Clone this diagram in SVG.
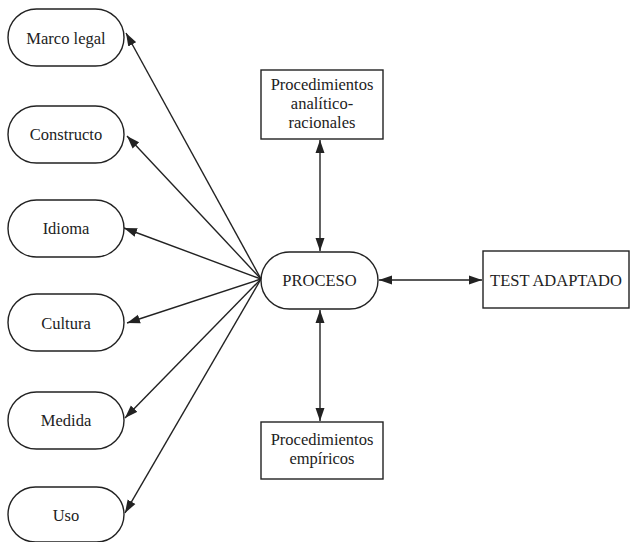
<svg xmlns="http://www.w3.org/2000/svg" width="631" height="542" viewBox="0 0 631 542">
<style>
.n{fill:#fff;stroke:#222;stroke-width:1.4}
.t{font-family:'Liberation Serif','Tinos','Times New Roman','DejaVu Serif',serif;font-size:16.5px;fill:#222;text-anchor:middle}
.c line{stroke:#222;stroke-width:1.4;fill:none}
</style>
<defs>
<marker id="ah" markerUnits="userSpaceOnUse" markerWidth="14" markerHeight="10" refX="13" refY="5" orient="auto-start-reverse" viewBox="0 0 14 10">
<path d="M0,0.5 L13,5 L0,9.5 Z" fill="#222"/>
</marker>
</defs>
<rect width="631" height="542" fill="#fff"/>
<g class="c">
<line x1="261" y1="279" x2="126" y2="33" marker-end="url(#ah)"/>
<line x1="261" y1="279" x2="127" y2="136" marker-end="url(#ah)"/>
<line x1="261" y1="279" x2="124" y2="228" marker-end="url(#ah)"/>
<line x1="261" y1="279" x2="127" y2="323" marker-end="url(#ah)"/>
<line x1="261" y1="279" x2="125" y2="418" marker-end="url(#ah)"/>
<line x1="261" y1="279" x2="125" y2="513" marker-end="url(#ah)"/>
<line x1="320" y1="140" x2="320" y2="251" marker-start="url(#ah)" marker-end="url(#ah)"/>
<line x1="320" y1="310" x2="320" y2="421" marker-start="url(#ah)" marker-end="url(#ah)"/>
<line x1="379" y1="280" x2="482" y2="280" marker-start="url(#ah)" marker-end="url(#ah)"/>
</g>
<g id="marco"><rect class="n" x="8" y="9" width="116" height="57" rx="28.5"/><text class="t" x="66" y="44">Marco legal</text></g>
<g id="constructo"><rect class="n" x="8" y="106" width="116" height="57" rx="28.5"/><text class="t" x="66" y="140">Constructo</text></g>
<g id="idioma"><rect class="n" x="8" y="200" width="116" height="57" rx="28.5"/><text class="t" x="66" y="234">Idioma</text></g>
<g id="cultura"><rect class="n" x="8" y="294" width="116" height="57" rx="28.5"/><text class="t" x="66" y="329">Cultura</text></g>
<g id="medida"><rect class="n" x="8" y="392" width="116" height="57" rx="28.5"/><text class="t" x="66" y="426">Medida</text></g>
<g id="uso"><rect class="n" x="8" y="487" width="116" height="55" rx="27.5"/><text class="t" x="66" y="521">Uso</text></g>
<g id="proceso"><rect class="n" x="261" y="252" width="117" height="57" rx="28.5"/><text class="t" x="319.5" y="286">PROCESO</text></g>
<g id="test"><rect class="n" x="483" y="251" width="146" height="57"/><text class="t" x="556" y="286">TEST ADAPTADO</text></g>
<g id="analitico"><rect class="n" x="261" y="70" width="122" height="69"/><text class="t" x="322" y="90">Procedimientos</text><text class="t" x="322" y="109">analítico-</text><text class="t" x="322" y="128">racionales</text></g>
<g id="empiricos"><rect class="n" x="261" y="422" width="122" height="57"/><text class="t" x="322" y="445">Procedimientos</text><text class="t" x="322" y="464">empíricos</text></g>
</svg>
